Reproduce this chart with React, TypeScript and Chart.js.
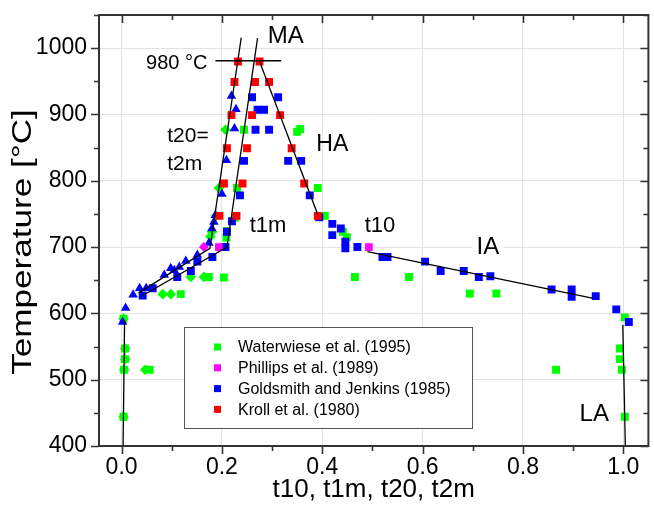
import React, { useEffect, useRef } from "react";
import { Chart, registerables } from "chart.js";

Chart.register(...registerables);

const FONT = "'Liberation Sans', Arial, Helvetica, sans-serif";

type P = { x: number; y: number };

// ---------- axis settings ----------
const xMin = -0.045;
const xMax = 1.05;
const yMin = 400;
const yMax = 1050;
const xTitle = "t10, t1m, t20, t2m";
const yTitle = "Temperature [°C]";

// ---------- data ----------
const krollSquares: P[] = [
  { x: 0.232, y: 980 }, { x: 0.275, y: 980 },
  { x: 0.225, y: 949 }, { x: 0.266, y: 949 }, { x: 0.294, y: 949 },
  { x: 0.219, y: 899 }, { x: 0.26, y: 899 }, { x: 0.316, y: 899 },
  { x: 0.21, y: 849 }, { x: 0.25, y: 849 }, { x: 0.339, y: 849 },
  { x: 0.204, y: 796 }, { x: 0.241, y: 796 }, { x: 0.364, y: 796 },
  { x: 0.195, y: 747 }, { x: 0.229, y: 747 }, { x: 0.391, y: 747 },
];

const goldsmithSquares: P[] = [
  { x: 0.26, y: 926 }, { x: 0.312, y: 926 },
  { x: 0.271, y: 907 }, { x: 0.284, y: 907 },
  { x: 0.267, y: 877 }, { x: 0.294, y: 877 },
  { x: 0.244, y: 830 }, { x: 0.332, y: 830 }, { x: 0.358, y: 830 },
  { x: 0.236, y: 778 }, { x: 0.375, y: 778 },
  { x: 0.22, y: 739 }, { x: 0.21, y: 723 }, { x: 0.207, y: 700 },
  { x: 0.181, y: 685 }, { x: 0.151, y: 678 }, { x: 0.138, y: 664 },
  { x: 0.111, y: 655 }, { x: 0.062, y: 638 }, { x: 0.042, y: 627 },
  { x: 0.394, y: 745 }, { x: 0.42, y: 735 }, { x: 0.42, y: 718 },
  { x: 0.437, y: 728 }, { x: 0.446, y: 708 }, { x: 0.446, y: 698 },
  { x: 0.47, y: 700 }, { x: 0.52, y: 685 }, { x: 0.53, y: 685 },
  { x: 0.605, y: 678 }, { x: 0.636, y: 664 }, { x: 0.682, y: 664 },
  { x: 0.712, y: 655 }, { x: 0.735, y: 656 }, { x: 0.857, y: 636 },
  { x: 0.897, y: 636 }, { x: 0.897, y: 625 }, { x: 0.945, y: 626 },
  { x: 0.986, y: 606 }, { x: 1.011, y: 587 },
];

const goldsmithTriangles: P[] = [
  { x: 0.219, y: 928 }, { x: 0.228, y: 908 }, { x: 0.225, y: 879 },
  { x: 0.209, y: 831 }, { x: 0.2, y: 780 }, { x: 0.187, y: 748 },
  { x: 0.184, y: 738 }, { x: 0.18, y: 728 }, { x: 0.174, y: 706 },
  { x: 0.151, y: 688 }, { x: 0.128, y: 679 }, { x: 0.115, y: 670 },
  { x: 0.105, y: 665 }, { x: 0.098, y: 668 }, { x: 0.085, y: 658 },
  { x: 0.049, y: 638 }, { x: 0.036, y: 638 }, { x: 0.023, y: 628 },
  { x: 0.008, y: 608 }, { x: 0.002, y: 587 },
];

const phillipsSquares: P[] = [
  { x: 0.194, y: 700 }, { x: 0.493, y: 700 },
];
const phillipsDiamonds: P[] = [{ x: 0.164, y: 700 }];

const waterwieseSquares: P[] = [
  { x: 0.244, y: 877 }, { x: 0.35, y: 874 }, { x: 0.356, y: 878 },
  { x: 0.23, y: 789 }, { x: 0.391, y: 789 },
  { x: 0.226, y: 744 }, { x: 0.405, y: 747 },
  { x: 0.21, y: 724 }, { x: 0.209, y: 714 },
  { x: 0.441, y: 723 }, { x: 0.449, y: 715 },
  { x: 0.174, y: 655 }, { x: 0.204, y: 654 }, { x: 0.118, y: 629 },
  { x: 0.465, y: 655 }, { x: 0.573, y: 655 }, { x: 0.694, y: 630 }, { x: 0.747, y: 630 },
  { x: 0.866, y: 515 },
  { x: 1.003, y: 594 }, { x: 0.993, y: 547 }, { x: 0.993, y: 531 },
  { x: 0.997, y: 515 }, { x: 1.003, y: 444 },
  { x: 0.004, y: 592 }, { x: 0.007, y: 547 }, { x: 0.007, y: 531 },
  { x: 0.005, y: 515 }, { x: 0.004, y: 444 }, { x: 0.056, y: 515 },
];

const waterwieseDiamonds: P[] = [
  { x: 0.207, y: 877 }, { x: 0.194, y: 789 }, { x: 0.188, y: 747 },
  { x: 0.18, y: 723 }, { x: 0.177, y: 716 },
  { x: 0.138, y: 655 }, { x: 0.164, y: 655 },
  { x: 0.082, y: 629 }, { x: 0.098, y: 629 },
  { x: 0.047, y: 515 },
  { x: 0.004, y: 592 }, { x: 0.007, y: 547 }, { x: 0.007, y: 531 },
  { x: 0.005, y: 515 }, { x: 0.004, y: 444 },
];

// fitted guide lines
const lineLeftLA: P[] = [{ x: 0.003, y: 400 }, { x: 0.006, y: 590 }];
const lineT20: P[] = [{ x: 0.034, y: 631 }, { x: 0.176, y: 698 }, { x: 0.2385, y: 1016 }];
const lineT1m: P[] = [{ x: 0.042, y: 627 }, { x: 0.21, y: 700 }, { x: 0.271, y: 1015 }];
const lineHA: P[] = [{ x: 0.275, y: 980 }, { x: 0.391, y: 749 }];
const lineIA: P[] = [{ x: 0.49, y: 693 }, { x: 0.938, y: 623 }];
const lineRightLA: P[] = [{ x: 0.999, y: 583 }, { x: 1.004, y: 400 }];
const line980: P[] = [{ x: 0.187, y: 981 }, { x: 0.318, y: 981 }];

const legendItems = [
  { label: "Waterwiese et al. (1995)", color: "#00ff00" },
  { label: "Phillips et al. (1989)", color: "#ff00ff" },
  { label: "Goldsmith and Jenkins (1985)", color: "#0000ff" },
  { label: "Kroll et al. (1980)", color: "#ff0000" },
];

// text annotations (positioned in data coordinates)
const annotations = [
  { text: "MA", x: 0.327, y: 1021, size: 24, align: "center", bg: false },
  { text: "980 °C", x: 0.171, y: 980, size: 20, align: "right", bg: false },
  { text: "t20=", x: 0.091, y: 870, size: 21, align: "left", bg: false },
  { text: "t2m", x: 0.091, y: 827, size: 21, align: "left", bg: false },
  { text: "HA", x: 0.42, y: 858, size: 23, align: "center", bg: false },
  { text: "t1m", x: 0.292, y: 735, size: 22, align: "center", bg: false },
  { text: "t10", x: 0.515, y: 734, size: 22, align: "center", bg: false },
  { text: "IA", x: 0.73, y: 703, size: 24, align: "center", bg: true },
  { text: "LA", x: 0.942, y: 450, size: 24, align: "center", bg: false },
];

const GREEN = "#00ff00";
const MAGENTA = "#ff00ff";
const BLUE = "#0000ff";
const RED = "#ff0000";

function isMajorX(v: number) {
  return Math.round(v * 10) % 2 === 0;
}

const overlayPlugin = {
  id: "overlay",
  afterDatasetsDraw(chart: any) {
    const { ctx, chartArea: a, scales } = chart;
    const xs = scales.x;
    const ys = scales.y;
    ctx.save();

    // annotations
    for (const an of annotations) {
      const px = xs.getPixelForValue(an.x);
      const py = ys.getPixelForValue(an.y);
      ctx.font = `${an.size}px ${FONT}`;
      ctx.textAlign = an.align as CanvasTextAlign;
      ctx.textBaseline = "alphabetic";
      const base = py + (an.size * 0.716) / 2;
      if (an.bg) {
        const w = ctx.measureText(an.text).width;
        let lx = px - w / 2;
        if (an.align === "left") lx = px;
        if (an.align === "right") lx = px - w;
        ctx.fillStyle = "#ffffff";
        ctx.fillRect(lx - 4, py - an.size * 0.5, w + 8, an.size);
      }
      ctx.fillStyle = "#000";
      ctx.fillText(an.text, px, base);
    }

    // legend box
    const lx0 = a.left + 85;
    const ly0 = a.top + 312;
    const lw = 288;
    const lh = 101;
    ctx.fillStyle = "#ffffff";
    ctx.fillRect(lx0, ly0, lw, lh);
    ctx.strokeStyle = "#555";
    ctx.lineWidth = 1;
    ctx.strokeRect(lx0 + 0.5, ly0 + 0.5, lw, lh);
    ctx.font = `16px ${FONT}`;
    ctx.textAlign = "left";
    ctx.textBaseline = "middle";
    legendItems.forEach((it, i) => {
      const cy = ly0 + 20 + i * 20.8;
      ctx.fillStyle = it.color;
      ctx.fillRect(lx0 + 30, cy - 3.5, 7, 7);
      ctx.fillStyle = "#000";
      ctx.fillText(it.label, lx0 + 54, cy + 1);
    });

    // y title
    ctx.save();
    ctx.translate(24, 242);
    ctx.rotate(-Math.PI / 2);
    ctx.scale(1.3, 1);
    ctx.font = `27px ${FONT}`;
    ctx.textAlign = "center";
    ctx.textBaseline = "middle";
    ctx.fillStyle = "#000";
    ctx.fillText(yTitle, 0, 0);
    ctx.restore();

    // frame
    ctx.strokeStyle = "#333";
    ctx.lineWidth = 2;
    ctx.strokeRect(a.left, a.top, a.right - a.left, a.bottom - a.top);

    // tick marks
    ctx.lineWidth = 1.6;
    ctx.beginPath();
    for (let i = 0; i <= 10; i++) {
      const v = i / 10;
      const px = Math.round(xs.getPixelForValue(v)) + 0.5;
      const len = i % 2 === 0 ? 8 : 5;
      ctx.moveTo(px, a.bottom);
      ctx.lineTo(px, a.bottom + len);
      ctx.moveTo(px, a.top);
      ctx.lineTo(px, a.top + len);
    }
    for (let v = 400; v <= 1050; v += 50) {
      const py = Math.round(ys.getPixelForValue(v)) + 0.5;
      const len = v % 100 === 0 ? 8 : 5;
      ctx.moveTo(a.left - len, py);
      ctx.lineTo(a.left, py);
      ctx.moveTo(a.right, py);
      ctx.lineTo(a.right - len, py);
    }
    ctx.stroke();
    ctx.restore();
  },
};

function lineDs(data: P[]) {
  return {
    type: "scatter" as const,
    data,
    showLine: true,
    borderColor: "#000",
    borderWidth: 1.3,
    pointRadius: 0,
    order: 0,
  };
}

function markDs(label: string, data: P[], color: string, style: string, r: number, order: number) {
  return {
    label,
    data,
    backgroundColor: color,
    borderColor: color,
    borderWidth: 0,
    pointStyle: style,
    pointRadius: r,
    pointHoverRadius: r,
    showLine: false,
    order,
  };
}

function zeroPad(s: any) {
  s.paddingTop = 0;
  s.paddingBottom = 0;
  s.paddingLeft = 0;
  s.paddingRight = 0;
}

export default function App() {
  const ref = useRef<HTMLCanvasElement | null>(null);

  useEffect(() => {
    if (!ref.current) return;
    const chart = new Chart(ref.current, {
      type: "scatter",
      data: {
        datasets: [
          lineDs(lineLeftLA),
          lineDs(lineT20),
          lineDs(lineT1m),
          lineDs(lineHA),
          lineDs(lineIA),
          lineDs(lineRightLA),
          lineDs(line980),
          markDs("Kroll et al. (1980)", krollSquares, RED, "rect", 5.6, 1),
          markDs("Phillips et al. (1989)", phillipsSquares, MAGENTA, "rect", 5.4, 2),
          markDs("Phillips et al. (1989) ◇", phillipsDiamonds, MAGENTA, "rectRot", 5.0, 2),
          markDs("Goldsmith and Jenkins (1985)", goldsmithSquares, BLUE, "rect", 5.6, 3),
          markDs("Goldsmith and Jenkins (1985) △", goldsmithTriangles, BLUE, "triangle", 5.5, 3),
          markDs("Waterwiese et al. (1995)", waterwieseSquares, GREEN, "rect", 5.6, 4),
          markDs("Waterwiese et al. (1995) ◇", waterwieseDiamonds, GREEN, "rectRot", 5.3, 4),
        ] as any,
      },
      options: {
        responsive: false,
        animation: false,
        layout: { padding: { top: 15, right: 0, left: 0, bottom: 0 } },
        plugins: {
          legend: { display: false },
          tooltip: { enabled: false },
        },
        scales: {
          x: {
            type: "linear",
            min: xMin,
            max: xMax,
            afterFit: (s: any) => {
              s.height = 67;
              zeroPad(s);
            },
            border: { display: false },
            grid: {
              drawTicks: false,
              lineWidth: 1,
              color: (c: any) => (c.tick && isMajorX(c.tick.value) ? "#e3e3e3" : "rgba(0,0,0,0)"),
            },
            ticks: {
              stepSize: 0.1,
              includeBounds: false,
              autoSkip: false,
              maxRotation: 0,
              padding: 8,
              color: "#000",
              font: { family: FONT, size: 23 },
              callback: (v: any) => (isMajorX(Number(v)) ? Number(v).toFixed(1) : ""),
            },
            title: {
              display: true,
              text: xTitle,
              color: "#000",
              font: { family: FONT, size: 26 },
              padding: { top: 0, bottom: 8 },
            },
          },
          y: {
            type: "linear",
            min: yMin,
            max: yMax,
            afterFit: (s: any) => {
              s.width = 99;
              zeroPad(s);
            },
            border: { display: false },
            grid: {
              drawTicks: false,
              lineWidth: 1,
              color: (c: any) => (c.tick && c.tick.value % 100 === 0 ? "#e3e3e3" : "rgba(0,0,0,0)"),
            },
            ticks: {
              stepSize: 50,
              includeBounds: false,
              autoSkip: false,
              padding: 12,
              color: "#000",
              font: { family: FONT, size: 23 },
              callback: (v: any) => (Number(v) % 100 === 0 ? String(v) : ""),
            },
          },
        },
      },
      plugins: [overlayPlugin],
    });
    return () => chart.destroy();
  }, []);

  return (
    <div style={{ position: "absolute", left: 0, top: 0, width: 654, height: 513, background: "#fff" }}>
      <canvas ref={ref} width={654} height={513} style={{ display: "block" }} />
    </div>
  );
}
